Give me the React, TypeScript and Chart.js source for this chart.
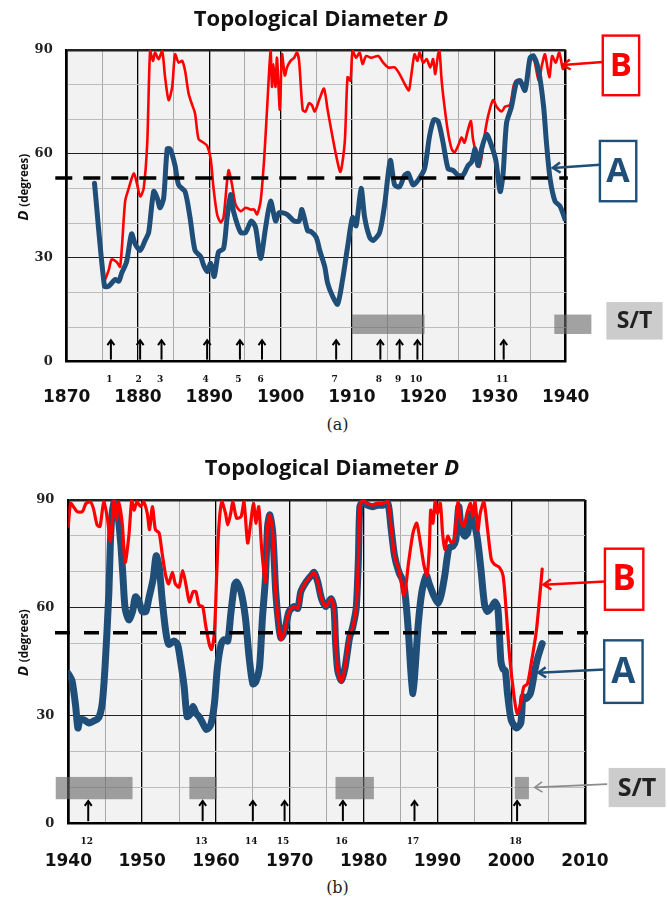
import React, { useEffect, useRef } from "react";
import { Chart, registerables } from "chart.js";
Chart.register(...registerables);

// ---------------- DATA ----------------
const topXTicks = [1870, 1875, 1880, 1885, 1890, 1895, 1900, 1905, 1910, 1915, 1920, 1925, 1930, 1935, 1940];
const bottomXTicks = [1940, 1945, 1950, 1955, 1960, 1965, 1970, 1975, 1980, 1985, 1990, 1995, 2000, 2005, 2010];
const yTicks = [0, 10, 20, 30, 40, 50, 60, 70, 80, 90];
const threshold = 53;

const topAYears = [1873.9, 1875.3, 1875.9, 1876.8, 1877.3, 1877.7, 1878.4, 1879.1, 1879.6, 1880.3, 1881, 1881.5, 1882.2, 1882.7, 1883.1, 1883.6, 1884.1, 1884.5, 1885.2, 1885.7, 1886.6, 1887.3, 1888, 1888.8, 1889.2, 1889.7, 1890.2, 1890.7, 1891.3, 1892, 1892.5, 1893, 1893.4, 1894.4, 1895.1, 1895.9, 1896.5, 1897.2, 1897.9, 1898.6, 1899.3, 1899.8, 1900.9, 1901.9, 1902.6, 1903, 1903.8, 1904.3, 1905, 1905.5, 1906.2, 1906.6, 1907.3, 1908, 1908.7, 1909.4, 1910.1, 1910.6, 1911.3, 1911.8, 1912.5, 1913, 1913.9, 1914.6, 1915.4, 1916, 1916.7, 1917.4, 1917.9, 1918.6, 1919.3, 1920.2, 1920.9, 1921.5, 1922.1, 1922.8, 1923.5, 1924.2, 1924.9, 1925.6, 1926.3, 1926.8, 1927.3, 1927.7, 1928.2, 1928.9, 1929.6, 1930.2, 1930.8, 1931.2, 1931.7, 1932.4, 1933.1, 1933.6, 1934.3, 1935, 1935.5, 1936.2, 1936.9, 1937.3, 1937.8, 1938.5, 1939.2, 1939.9];
const topAValues = [51.5, 21.8, 21.8, 23.7, 23.2, 25.5, 28.8, 36.9, 34, 32.1, 35, 37.3, 49.1, 47.2, 44.4, 47.2, 61.4, 61.4, 56.6, 51, 49.1, 41.6, 32.1, 30.3, 27.9, 26, 28.4, 24.6, 31.7, 32.6, 41.6, 48.2, 43.4, 37.3, 37.3, 40.6, 38.7, 29.8, 38.7, 46.3, 40.6, 43, 42.5, 40.6, 40.6, 43.9, 37.8, 37.5, 35.9, 32.1, 27.4, 22.7, 18.9, 16.6, 23.7, 33.1, 41.6, 39.2, 50, 41.6, 35.9, 35, 37.3, 45.3, 58.1, 51, 50.5, 53.8, 54.3, 51, 52.4, 55.7, 65.1, 69.8, 69.4, 63.2, 55.7, 55.2, 53.8, 53.8, 56.6, 57.6, 61.4, 56.6, 61.4, 65.6, 62.3, 58.1, 49.1, 53.8, 68.9, 73.6, 80.7, 81.1, 78.3, 87.7, 88.2, 84, 73.6, 63.2, 52.9, 46.3, 44.9, 41.1];

const topBYears = [1873.9, 1874.7, 1875.3, 1875.9, 1876.3, 1877, 1877.5, 1878.2, 1878.7, 1879.4, 1879.8, 1880.3, 1880.8, 1881.3, 1881.7, 1882.1, 1882.4, 1882.9, 1883.4, 1883.8, 1884.3, 1884.8, 1885.2, 1885.7, 1886.2, 1886.6, 1887.1, 1887.6, 1888, 1888.5, 1889.2, 1889.7, 1890.2, 1890.6, 1891.1, 1891.6, 1892, 1892.7, 1893.2, 1893.7, 1894.4, 1895.1, 1895.8, 1896.3, 1896.7, 1897.2, 1897.7, 1898.1, 1898.6, 1898.8, 1899, 1899.3, 1899.5, 1899.9, 1900.2, 1900.6, 1900.9, 1901.4, 1901.9, 1902.3, 1902.6, 1903.1, 1903.5, 1904, 1904.4, 1904.8, 1905.5, 1906.1, 1906.6, 1907.1, 1907.8, 1908.4, 1909, 1909.4, 1909.8, 1910.1, 1910.6, 1911.1, 1911.5, 1912, 1912.7, 1913.7, 1914.4, 1915.1, 1916, 1916.7, 1917.4, 1918, 1918.3, 1918.8, 1919.2, 1919.5, 1920, 1920.5, 1921, 1921.4, 1921.7, 1922.1, 1922.3, 1922.6, 1923, 1923.5, 1924, 1924.4, 1924.9, 1925.4, 1925.8, 1926.3, 1926.7, 1927, 1927.5, 1927.9, 1928.3, 1928.6, 1929.1, 1929.8, 1930.3, 1931, 1931.5, 1932.2, 1932.7, 1933.1, 1933.7, 1934.3, 1935, 1935.6, 1936.2, 1936.7, 1937.1, 1937.7, 1938.1, 1938.6, 1939.1, 1939.6, 1939.9];
const topBValues = [51.5, 35, 23.7, 26.5, 29.5, 28.8, 27.4, 46.3, 50, 54.3, 51.9, 47.7, 50, 63.2, 89.6, 86.8, 89.2, 87.3, 89.6, 82.1, 75.5, 79.3, 88.7, 86.3, 86.8, 84, 77.4, 74.1, 71.7, 64.2, 63.2, 62.3, 58.5, 50, 42.5, 40.2, 41.6, 55.2, 51, 45.3, 43.4, 44.4, 43.9, 43.9, 42.5, 46.3, 58.5, 72.7, 89.6, 79.3, 85.9, 79.3, 87.7, 72.7, 88.7, 82.6, 84.9, 86.8, 87.7, 89.2, 86.8, 72.7, 72.2, 74.6, 74, 72.2, 76, 78.8, 72.7, 67, 59.5, 54.8, 63.2, 82.1, 81.1, 89.6, 87.7, 89.2, 85.9, 88.2, 87.7, 88.2, 86.3, 84.9, 84.9, 83, 80.2, 78.3, 82.1, 88.7, 86.8, 89.2, 86.3, 87.3, 84.9, 87.3, 83, 88.7, 89.6, 81.1, 73.6, 66.1, 61.4, 60.4, 62.3, 64.7, 63.2, 67, 69.4, 64.2, 59.5, 56.2, 60.4, 65.1, 70.8, 75.5, 73.6, 72.2, 73.6, 74.1, 79.7, 81.1, 80.2, 78.8, 87.7, 86.8, 81.1, 85.9, 88.7, 82.1, 88.2, 86.3, 89.2, 84.5, 85.4];

const bottomAYears = [1940, 1940.5, 1941, 1941.3, 1941.6, 1942.1, 1942.8, 1943.4, 1944.1, 1944.6, 1945, 1945.5, 1945.7, 1945.9, 1946.2, 1946.4, 1946.6, 1947.1, 1947.4, 1947.7, 1948.2, 1948.7, 1949.1, 1949.6, 1950, 1950.5, 1950.9, 1951.5, 1951.9, 1952.3, 1952.7, 1953.2, 1953.6, 1954.3, 1954.8, 1955.2, 1955.7, 1956.1, 1956.6, 1956.9, 1957.3, 1957.7, 1958.2, 1958.7, 1959.3, 1959.8, 1960.2, 1960.7, 1961.1, 1961.6, 1962, 1962.5, 1962.8, 1963.4, 1964, 1964.5, 1965, 1965.4, 1965.9, 1966.3, 1966.7, 1967, 1967.3, 1967.7, 1968.1, 1968.5, 1968.8, 1969.3, 1969.9, 1970.6, 1971.1, 1971.5, 1972.2, 1972.9, 1973.3, 1973.8, 1974.3, 1974.9, 1975.6, 1976, 1976.2, 1976.5, 1977, 1977.5, 1978.1, 1978.5, 1979, 1979.3, 1979.5, 1979.9, 1980.5, 1981.2, 1981.9, 1982.6, 1983.3, 1983.7, 1984.2, 1984.8, 1985.4, 1985.7, 1986.1, 1986.4, 1986.7, 1987, 1987.4, 1987.9, 1988.5, 1988.9, 1989.5, 1990.1, 1990.5, 1991, 1991.3, 1991.6, 1992.1, 1992.5, 1992.9, 1993.2, 1993.7, 1994.1, 1994.5, 1994.8, 1995.1, 1995.5, 1995.9, 1996.4, 1996.8, 1997.4, 1997.8, 1998.2, 1998.6, 1998.9, 1999.2, 1999.5, 2000, 2000.7, 2001.3, 2001.6, 2002, 2002.6, 2003.2, 2003.6, 2004.2];
const bottomAValues = [41.6, 39.7, 32.5, 26.5, 28.8, 28.8, 27.9, 28.4, 29.3, 33.4, 44.3, 64.4, 78, 85.3, 89.4, 86.2, 88.1, 78, 68.9, 59.8, 56.6, 58.9, 63, 61.6, 58.9, 58.9, 62.5, 68, 74.4, 71.6, 62.5, 53.4, 49.8, 50.7, 49.8, 45.2, 37.9, 29.7, 30.6, 32.5, 30.6, 29.7, 27.9, 26.1, 27.4, 33.4, 43.4, 49.8, 51.1, 50.7, 58, 66.2, 67.1, 64.4, 57.1, 46.1, 38.8, 39.3, 43.4, 57.1, 68, 82.6, 85.8, 80.8, 64.4, 55.2, 51.6, 53.4, 58.9, 60.3, 59.8, 64.4, 67.1, 68.9, 69.8, 67.1, 62.5, 60.3, 62.5, 59.8, 50.7, 42.5, 39.7, 43.4, 51.6, 54.3, 59.8, 73.5, 88.1, 89.4, 88.5, 88.1, 88.5, 88.5, 89, 82.6, 74.4, 69.8, 67.1, 62.5, 52.5, 42.5, 36.1, 43.4, 55.2, 64.4, 68.9, 66.6, 63.4, 61.2, 63.4, 68.9, 73.5, 76.7, 77.1, 78.9, 88.1, 82.6, 79.9, 80.8, 86.2, 83.5, 82.6, 78, 70.7, 60.7, 58.9, 60.3, 61.6, 59.8, 45.2, 42.9, 42.5, 36.1, 28.8, 26.5, 27.9, 35.2, 34.7, 36.1, 42.5, 46.1, 50];

const bottomBYears = [1940, 1940.3, 1940.7, 1941.2, 1941.9, 1942.4, 1943, 1943.4, 1943.9, 1944.3, 1944.8, 1945.3, 1945.7, 1946.2, 1946.5, 1946.8, 1947.3, 1947.7, 1948.2, 1948.6, 1948.9, 1949.3, 1949.8, 1950.2, 1950.7, 1951, 1951.4, 1951.8, 1952.3, 1952.7, 1953.2, 1953.6, 1954.1, 1954.5, 1955, 1955.5, 1956, 1956.4, 1956.9, 1957.3, 1957.7, 1958.2, 1958.6, 1959.1, 1959.4, 1959.8, 1960.1, 1960.4, 1960.8, 1961.3, 1961.6, 1962, 1962.3, 1962.8, 1963.4, 1963.8, 1964.3, 1964.7, 1965.1, 1965.4, 1965.8, 1966.2, 1966.7, 1967, 1967.3, 1967.7, 1968.1, 1968.5, 1968.8, 1969.3, 1969.9, 1970.6, 1971.1, 1971.5, 1972.2, 1972.9, 1973.3, 1973.8, 1974.3, 1974.9, 1975.6, 1976, 1976.2, 1976.5, 1977, 1977.5, 1978.1, 1978.5, 1979, 1979.3, 1979.5, 1979.9, 1980.5, 1981.2, 1981.9, 1982.6, 1983.3, 1983.7, 1984.2, 1984.8, 1985.5, 1986.1, 1986.7, 1987.2, 1987.7, 1988.2, 1988.6, 1988.9, 1989.1, 1989.4, 1989.7, 1990, 1990.4, 1990.7, 1991, 1991.4, 1991.9, 1992.3, 1992.8, 1993.1, 1993.6, 1994, 1994.5, 1994.8, 1995.1, 1995.5, 1995.8, 1996.3, 1996.8, 1997.3, 1997.7, 1998.4, 1998.9, 1999.3, 1999.8, 2000.4, 2000.8, 2001.3, 2001.7, 2002.2, 2002.7, 2003.4, 2003.8, 2004.2];
const bottomBValues = [82.6, 89, 88.1, 86.7, 86.7, 89, 89.4, 87.6, 83, 82.6, 89.4, 84.9, 78.5, 89.9, 84.4, 89.4, 83.5, 72.6, 79.9, 89.9, 87.1, 89.4, 88.1, 89.4, 86.2, 81.7, 88.1, 81.7, 80.8, 75.3, 68.9, 66.6, 69.8, 66.6, 65.7, 70.3, 65.7, 61.6, 64.4, 64.4, 60.7, 60.3, 55.2, 49.8, 48.4, 53.4, 68.9, 82.6, 89.4, 86.2, 83, 86.2, 89.4, 84.9, 85.3, 89.4, 78, 83.5, 89, 83.5, 88.1, 76.2, 67.1, 82.6, 85.8, 80.8, 64.4, 55.2, 51.1, 53.4, 58.9, 60.3, 59.8, 64.4, 67.1, 68.9, 69.8, 67.1, 62.5, 60.3, 62.5, 59.8, 50.7, 42.5, 39.3, 43.4, 52.5, 54.3, 59.8, 73.5, 88.1, 89.9, 89, 88.5, 89, 89, 89.4, 83, 74.4, 70.3, 63.4, 72.6, 80.8, 83.5, 78, 71.6, 68.9, 76.2, 87.1, 83.5, 89.4, 86.2, 89, 80.8, 76.2, 79.9, 78, 78.9, 89.4, 84.4, 82.6, 86.2, 89, 85.3, 89.4, 81.7, 86.2, 89.4, 81.7, 73.5, 72.1, 71.2, 68.9, 59.8, 46.1, 35.2, 30.6, 33.4, 37.9, 38.8, 44.3, 53.4, 61.6, 70.7];

const topEventYears = [1876.2, 1880.3, 1883.3, 1889.7, 1894.3, 1897.4, 1907.8, 1914, 1916.7, 1919.2, 1931.3];
const topEventLabels = ["1", "2", "3", "4", "5", "6", "7", "8", "9", "10", "11"];
const bottomEventYears = [1942.7, 1958.2, 1965, 1969.3, 1977.2, 1986.9, 2000.8];
const bottomEventLabels = ["12", "13", "14", "15", "16", "17", "18"];

const topSTStart = [1910, 1938.4];
const topSTEnd = [1920.2, 1943.6];
const bottomSTStart = [1938.3, 1956.4, 1976.2, 2000.5];
const bottomSTEnd = [1948.7, 1960.1, 1981.4, 2002.4];

// ---------------- STYLE ----------------
const BLUE = "#1f4e79";
const RED = "#ff0000";

type Box = { text: string; color: string; fill: string; x0: number; x1: number; y0: number; y1: number; arrow?: number[]; arrowColor?: string; arrowWidth?: number; textColor?: string; font: number; border: boolean };

type Cfg = {
  top: number; height: number; left: number; padRight: number; padTop: number; xAxisHeight: number; xLabelPad: number;
  xMin: number; xMax: number; xTicks: number[];
  series: { years: number[]; values: number[]; color: string; width: number }[];
  events: number[]; eventLabels: string[];
  stStart: number[]; stEnd: number[]; stLow: number; stHigh: number;
  dashFrom: number; dashTo: number; dash: number[];
  boxes: Box[];
  yTitleShift: number;
};

const topCfg: Cfg = {
  top: 28, height: 384, left: 66.7, padRight: 101.3, padTop: 15.3, xAxisHeight: 50.3, xLabelPad: 26,
  xMin: 1870, xMax: 1940, xTicks: topXTicks,
  series: [
    { years: topAYears, values: topAValues, color: BLUE, width: 5 },
    { years: topBYears, values: topBValues, color: RED, width: 2.6 },
  ],
  events: topEventYears, eventLabels: topEventLabels,
  stStart: topSTStart, stEnd: topSTEnd, stLow: 8.0, stHigh: 13.6,
  dashFrom: 1868.4, dashTo: 1940.3, dash: [17, 11],
  boxes: [
    { text: "B", color: RED, fill: "#fff", x0: 1945.2, x1: 1950.3, y0: 94.1, y1: 76.9, arrow: [1945.2, 86.5, 1939.6, 85.6], arrowColor: RED, arrowWidth: 2.5, font: 33, border: true },
    { text: "A", color: BLUE, fill: "#fff", x0: 1944.8, x1: 1949.9, y0: 63.7, y1: 46.3, arrow: [1944.8, 56.8, 1938.2, 55.9], arrowColor: BLUE, arrowWidth: 2.5, font: 34, border: true },
    { text: "S/T", color: "#222", fill: "#cccccc", x0: 1945.7, x1: 1953.6, y0: 17.2, y1: 6.4, font: 23, border: false },
  ],
  yTitleShift: -18.5,
};

const bottomCfg: Cfg = {
  top: 478, height: 400, left: 68.3, padRight: 82, padTop: 16.3, xAxisHeight: 54.7, xLabelPad: 28,
  xMin: 1940, xMax: 2010, xTicks: bottomXTicks,
  series: [
    { years: bottomBYears, values: bottomBValues, color: RED, width: 3.2 },
    { years: bottomAYears, values: bottomAValues, color: BLUE, width: 7 },
  ],
  events: bottomEventYears, eventLabels: bottomEventLabels,
  stStart: bottomSTStart, stEnd: bottomSTEnd, stLow: 6.7, stHigh: 12.9,
  dashFrom: 1938.2, dashTo: 2010.4, dash: [15, 14],
  boxes: [
    { text: "B", color: RED, fill: "#fff", x0: 2012.7, x1: 2017.9, y0: 76.4, y1: 59.4, arrow: [2012.7, 67.3, 2004.4, 66.4], arrowColor: RED, arrowWidth: 2.5, font: 35, border: true },
    { text: "A", color: BLUE, fill: "#fff", x0: 2012.6, x1: 2017.8, y0: 50.9, y1: 33.5, arrow: [2012.6, 42.8, 2003.7, 41.9], arrowColor: BLUE, arrowWidth: 2.5, font: 35, border: true },
    { text: "S/T", color: "#222", fill: "#cccccc", x0: 2013.2, x1: 2020.9, y0: 15.4, y1: 4.5, arrow: [2013, 10.9, 2003.2, 10], arrowColor: "#8c8c8c", arrowWidth: 1.6, font: 25, border: false },
  ],
  yTitleShift: -18.8,
};

function drawArrow(ctx: CanvasRenderingContext2D, x1: number, y1: number, x2: number, y2: number, color: string, width: number, head: number, spread: number) {
  const ang = Math.atan2(y2 - y1, x2 - x1);
  ctx.save();
  ctx.strokeStyle = color;
  ctx.lineWidth = width;
  ctx.lineCap = "butt";
  ctx.lineJoin = "miter";
  ctx.beginPath();
  ctx.moveTo(x1, y1);
  ctx.lineTo(x2, y2);
  ctx.stroke();
  ctx.beginPath();
  ctx.moveTo(x2 - head * Math.cos(ang - spread), y2 - head * Math.sin(ang - spread));
  ctx.lineTo(x2, y2);
  ctx.lineTo(x2 - head * Math.cos(ang + spread), y2 - head * Math.sin(ang + spread));
  ctx.stroke();
  ctx.restore();
}

function makeDecor(cfg: Cfg) {
  return {
    id: "decor",
    beforeDraw(chart: any) {
      const { ctx, chartArea: a } = chart;
      ctx.save();
      ctx.fillStyle = "#f2f2f2";
      ctx.fillRect(a.left, a.top, a.right - a.left, a.bottom - a.top);
      ctx.restore();
    },
    afterDatasetsDraw(chart: any) {
      const ctx: CanvasRenderingContext2D = chart.ctx;
      const xs = chart.scales.x;
      const ys = chart.scales.y;
      const a = chart.chartArea;
      const px = (v: number) => xs.getPixelForValue(v);
      const py = (v: number) => ys.getPixelForValue(v);

      // S/T shaded periods
      ctx.save();
      ctx.fillStyle = "rgba(105,105,105,0.62)";
      cfg.stStart.forEach((s, i) => {
        const x0 = px(s), x1 = px(cfg.stEnd[i]);
        const y0 = py(cfg.stHigh), y1 = py(cfg.stLow);
        ctx.fillRect(x0, y0, x1 - x0, y1 - y0);
      });
      ctx.restore();

      // threshold dashed line
      ctx.save();
      ctx.strokeStyle = "#000";
      ctx.lineWidth = 3.6;
      ctx.setLineDash(cfg.dash);
      ctx.beginPath();
      ctx.moveTo(px(cfg.dashFrom), py(threshold));
      ctx.lineTo(px(cfg.dashTo), py(threshold));
      ctx.stroke();
      ctx.restore();

      // event arrows & numbers
      cfg.events.forEach((yr, i) => {
        const x = px(yr);
        drawArrow(ctx, x, py(0.6), x, py(6.2), "#000", 2, 6, 0.62);
        ctx.save();
        ctx.fillStyle = "#111";
        ctx.font = "bold 9px 'DejaVu Serif'";
        ctx.textAlign = "center";
        ctx.textBaseline = "middle";
        ctx.fillText(cfg.eventLabels[i], x - 1.5, py(-5.1));
        ctx.restore();
      });

      // label boxes
      cfg.boxes.forEach((b) => {
        const x0 = px(b.x0), x1 = px(b.x1), y0 = py(b.y0), y1 = py(b.y1);
        ctx.save();
        ctx.fillStyle = b.fill;
        ctx.fillRect(x0, y0, x1 - x0, y1 - y0);
        if (b.border) {
          ctx.strokeStyle = b.color;
          ctx.lineWidth = 2.4;
          ctx.strokeRect(x0, y0, x1 - x0, y1 - y0);
        }
        ctx.fillStyle = b.color;
        ctx.font = `bold ${b.font}px 'Open Sans'`;
        ctx.textAlign = "center";
        ctx.textBaseline = "middle";
        ctx.fillText(b.text, (x0 + x1) / 2, (y0 + y1) / 2 + 1);
        ctx.restore();
        if (b.arrow) {
          drawArrow(ctx, px(b.arrow[0]), py(b.arrow[1]), px(b.arrow[2]), py(b.arrow[3]), b.arrowColor || b.color, b.arrowWidth || 2, 9, 0.6);
        }
      });

      // y-axis title: D (degrees)
      ctx.save();
      const cy = (a.top + a.bottom) / 2 + cfg.yTitleShift;
      ctx.translate(27.5, cy);
      ctx.rotate(-Math.PI / 2);
      const f1 = "italic bold 15px 'Open Sans'";
      const f2 = "bold 11.5px 'Open Sans'";
      ctx.font = f1;
      const w1 = ctx.measureText("D ").width;
      ctx.font = f2;
      const w2 = ctx.measureText("(degrees)").width;
      const start = -(w1 + w2) / 2;
      ctx.fillStyle = "#111";
      ctx.textBaseline = "alphabetic";
      ctx.textAlign = "left";
      ctx.font = f1;
      ctx.fillText("D ", start, 0);
      ctx.font = f2;
      ctx.fillText("(degrees)", start + w1, 0);
      ctx.restore();
    },
  };
}

function Panel({ cfg }: { cfg: Cfg }) {
  const ref = useRef<HTMLCanvasElement | null>(null);
  useEffect(() => {
    if (!ref.current) return;
    const chart = new Chart(ref.current, {
      type: "line",
      data: {
        datasets: cfg.series.map((s) => ({
          data: s.years.map((x, i) => ({ x, y: s.values[i] })),
          borderColor: s.color,
          backgroundColor: s.color,
          borderWidth: s.width,
          pointRadius: 0,
          tension: 0.25,
          fill: false,
          borderCapStyle: "round",
          borderJoinStyle: "round",
        })) as any,
      },
      options: {
        responsive: false,
        animation: false,
        devicePixelRatio: 1,
        layout: { padding: { left: 0, right: cfg.padRight, top: cfg.padTop, bottom: 0 } },
        plugins: { legend: { display: false }, tooltip: { enabled: false }, title: { display: false } },
        scales: {
          x: {
            type: "linear",
            min: cfg.xMin,
            max: cfg.xMax,
            afterBuildTicks: (s: any) => {
              s.ticks = cfg.xTicks.map((v) => ({ value: v }));
            },
            afterFit: (s: any) => {
              s.height = cfg.xAxisHeight;
            },
            border: { display: true, color: "#000", width: 2.5 },
            grid: {
              drawTicks: false,
              color: (c: any) => {
                const v = c.tick ? c.tick.value : 0;
                return v % 10 === 0 ? "#000" : "#a8a8a8";
              },
              lineWidth: (c: any) => {
                const v = c.tick ? c.tick.value : 0;
                if (v === cfg.xMin || v === cfg.xMax) return 2.5;
                return v % 10 === 0 ? 1.3 : 1;
              },
            },
            ticks: {
              autoSkip: false,
              maxRotation: 0,
              minRotation: 0,
              padding: cfg.xLabelPad,
              color: "#111",
              font: { family: "'DejaVu Sans'", weight: "bold", size: 17 },
              callback: (v: any) => (Number(v) % 10 === 0 ? String(v) : ""),
            },
          },
          y: {
            type: "linear",
            min: 0,
            max: 90,
            afterBuildTicks: (s: any) => {
              s.ticks = yTicks.map((v) => ({ value: v }));
            },
            afterFit: (s: any) => {
              s.width = cfg.left;
            },
            border: { display: true, color: "#000", width: 2.5 },
            grid: {
              drawTicks: false,
              color: (c: any) => {
                const v = c.tick ? c.tick.value : 0;
                return v % 30 === 0 ? "#222" : "#bdbdbd";
              },
              lineWidth: (c: any) => {
                const v = c.tick ? c.tick.value : 0;
                if (v === 90) return 2.5;
                return 1;
              },
            },
            ticks: {
              autoSkip: false,
              padding: 14,
              color: "#222",
              font: { family: "'DejaVu Serif'", weight: "bold", size: 13 },
              callback: (v: any) => (Number(v) % 30 === 0 ? String(v) : ""),
            },
          },
        },
      } as any,
      plugins: [makeDecor(cfg)],
    });
    return () => chart.destroy();
  }, [cfg]);
  return (
    <canvas
      ref={ref}
      width={667}
      height={cfg.height}
      style={{ position: "absolute", left: 0, top: cfg.top, width: 667, height: cfg.height, display: "block" }}
    />
  );
}

const titleStyle: React.CSSProperties = {
  position: "absolute",
  left: 0,
  fontFamily: "'Open Sans', sans-serif",
  fontWeight: 700,
  fontSize: 22,
  lineHeight: "26px",
  color: "#111",
  textAlign: "center",
  whiteSpace: "nowrap",
};

const captionStyle: React.CSSProperties = {
  position: "absolute",
  left: 0,
  width: 675,
  fontFamily: "'DejaVu Serif', serif",
  fontSize: 16,
  lineHeight: "20px",
  color: "#222",
  textAlign: "center",
};

export default function App() {
  return (
    <div style={{ position: "absolute", left: 0, top: 0, width: 667, height: 899, background: "#fff", overflow: "hidden" }}>
      <Panel cfg={topCfg} />
      <Panel cfg={bottomCfg} />
      <div style={{ ...titleStyle, top: 4, width: 642 }}>
        Topological Diameter <i>D</i>
      </div>
      <div style={{ ...titleStyle, top: 453, width: 664 }}>
        Topological Diameter <i>D</i>
      </div>
      <div style={{ ...captionStyle, top: 415 }}>(a)</div>
      <div style={{ ...captionStyle, top: 878 }}>(b)</div>
    </div>
  );
}
